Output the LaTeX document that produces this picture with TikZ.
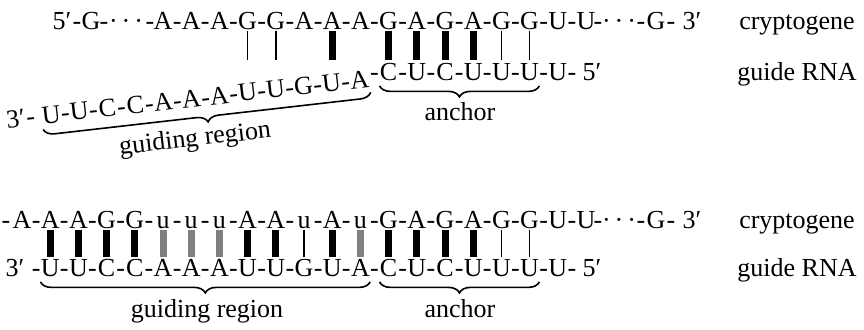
\documentclass[tikz,border=0pt]{standalone}
\usepackage{fontspec}
\setmainfont{Liberation Serif}
\usetikzlibrary{decorations.pathreplacing}
\begin{document}
\begin{tikzpicture}[
    x=0.5pt, y=-0.5pt,
    every node/.style={font=\fontsize{13}{15}\selectfont, inner sep=0pt, anchor=base},
    nt/.style={text height=8.6pt, text depth=0pt},
    pair_thick/.style={line width=3.5pt, black},
    pair_gray/.style={line width=3.5pt, black!50},
    pair_thin/.style={line width=0.75pt, black},
    brace_style/.style={decorate, decoration={brace, mirror, amplitude=5.5pt}, line width=0.8pt}
]
\useasboundingbox (0,0) rectangle (864,330);

% top: cryptogene
\node (t5) at (62,29.5) {5′};
\node (td0) at (77,29.5) {-};
\node[nt] (tG) at (91,29.5) {G};
\node (td1) at (104,29.5) {-};
\node (tdots) at (126,29.5) {·\kern2pt·\kern2pt·};
\node (td2) at (150,29.5) {-};
\foreach \n [count=\j from 6] in {A,A,A,G,G,A,A,A,G,A,G,A,G,G,U,U}
    \node[nt] (tc\j) at ({22+28.2*(\j-1)},29.5) {\n};
\foreach \j in {6,...,20}
    \node (tcd\j) at ({22+28.2*(\j-0.5)},29.5) {-};
\node (td3) at (598,29.5) {-};
\node (tdots2) at (619,29.5) {·\kern2pt·\kern2pt·};
\node (td4) at (641,29.5) {-};
\node[nt] (tG2) at (656,29.5) {G};
\node (td5) at (671,29.5) {-};
\node (t3) at (692,29.5) {3′};
\node (tlab1) at (797,29.5) {cryptogene};

% top: guide RNA, anchor part
\foreach \n [count=\j from 14] in {C,U,C,U,U,U,U}
    \node[nt] (tg\j) at ({22+28.2*(\j-1)},80.5) {\n};
\foreach \j in {13,...,19}
    \node (tgd\j) at ({22+28.2*(\j-0.5)},80.5) {-};
\node (tgd20) at (572,80.5) {-};
\node (t5b) at (592,80.5) {5′};
\node (tlab2) at (797,80.5) {guide RNA};
\draw[brace_style] ([yshift=-2.5pt]tg14.south west) -- ([yshift=-2.5pt]tg19.south east);
\node (tlab4) at (460,121) {anchor};

% top: guiding region, tilted
\begin{scope}[shift={(360.4,88)}, rotate=6.5, transform shape]
    \node (t3b) at (-346,0) {3′};
    \node (tsd1) at (-331,0) {-};
    \foreach \n [count=\j from 2] in {U,U,C,C,A,A,A,U,U,G,U,A}
        \node[nt] (ts\j) at ({28.2*(\j-13)},0) {\n};
    \foreach \j in {2,...,12}
        \node (tsd\j) at ({28.2*(\j-12.5)},0) {-};
    \draw[brace_style] ([yshift=-2.5pt]ts2.south west) -- ([yshift=-2.5pt]ts13.south east);
    \node (tlab3) at (-170,39) {guiding region};
\end{scope}

% top: pairs
\foreach \j in {9,10,18,19}
    \draw[pair_thin] ([yshift=-0.5pt]tc\j.south) -- ([yshift=1.5pt]tc\j.south |- tg14.north);
\foreach \j in {12,14,15,16,17}
    \draw[pair_thick] ([yshift=-0.5pt]tc\j.south) -- ([yshift=1.5pt]tc\j.south |- tg14.north);

% bottom: cryptogene
\node (bd0) at (6,228.5) {-};
\foreach \n [count=\j] in {A,A,A,G,G,u,u,u,A,A,u,A,u,G,A,G,A,G,G,U,U}
    \node[nt] (bc\j) at ({22+28.2*(\j-1)},228.5) {\n};
\foreach \j in {1,...,20}
    \node (bcd\j) at ({22+28.2*(\j-0.5)},228.5) {-};
\node (bd3) at (598,228.5) {-};
\node (bdots2) at (619,228.5) {·\kern2pt·\kern2pt·};
\node (bd4) at (641,228.5) {-};
\node[nt] (bG2) at (656,228.5) {G};
\node (bd5) at (671,228.5) {-};
\node (b3) at (692,228.5) {3′};
\node (blab1) at (797,228.5) {cryptogene};

% bottom: guide RNA
\node (b3b) at (15,276.5) {3′};
\foreach \n [count=\j from 2] in {U,U,C,C,A,A,A,U,U,G,U,A,C,U,C,U,U,U,U}
    \node[nt] (bg\j) at ({22+28.2*(\j-1)},276.5) {\n};
\foreach \j in {1,...,19}
    \node (bgd\j) at ({22+28.2*(\j-0.5)},276.5) {-};
\node (bgd20) at (572,276.5) {-};
\node (b5b) at (592,276.5) {5′};
\node (blab2) at (797,276.5) {guide RNA};
\draw[brace_style] ([yshift=-2.5pt]bg2.south west) -- ([yshift=-2.5pt]bg13.south east);
\draw[brace_style] ([yshift=-2.5pt]bg14.south west) -- ([yshift=-2.5pt]bg19.south east);
\node (blab3) at (207,318) {guiding region};
\node (blab4) at (460,318) {anchor};

% bottom: pairs
\foreach \j in {2,3,4,5,9,10,12,14,15,16,17}
    \draw[pair_thick] ([yshift=-0.5pt]bc\j.south) -- ([yshift=1.1pt]bg\j.north);
\foreach \j in {6,7,8,13}
    \draw[pair_gray] ([yshift=-0.5pt]bc\j.south) -- ([yshift=1.1pt]bg\j.north);
\foreach \j in {11,18,19}
    \draw[pair_thin] ([yshift=-0.5pt]bc\j.south) -- ([yshift=1.1pt]bg\j.north);
\end{tikzpicture}
\end{document}
